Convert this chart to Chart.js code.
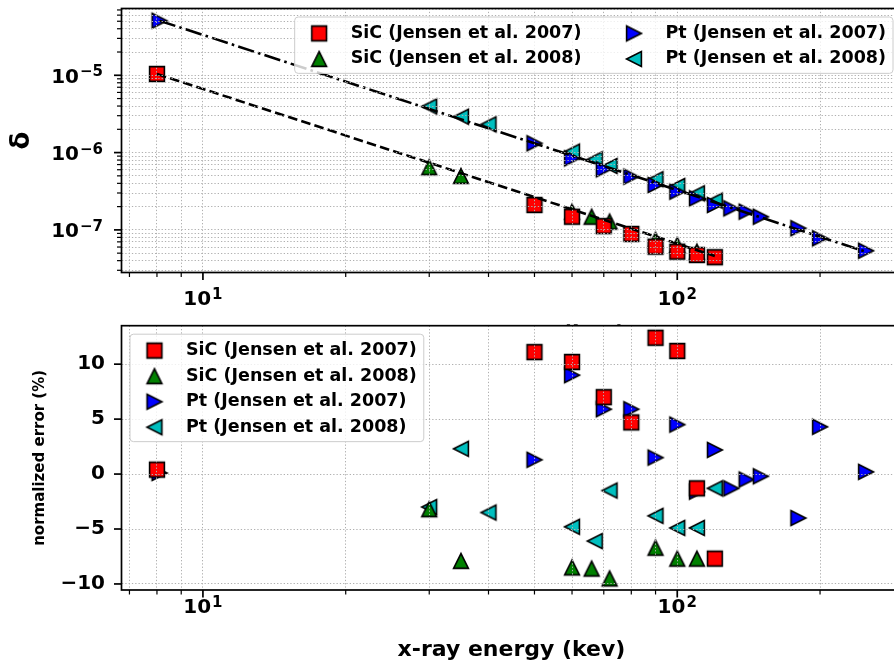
<!DOCTYPE html>
<html>
<head>
<meta charset="utf-8">
<title>delta vs x-ray energy</title>
<script src="https://cdn.jsdelivr.net/npm/chart.js@4.4.1/dist/chart.umd.min.js"></script>
<style>
  html, body { margin: 0; padding: 0; width: 894px; height: 667px; overflow: hidden; background: #fff; }
  canvas { position: absolute; left: 0; }
  #deltaChart { top: 0; }
  #errorChart { top: 318px; }
</style>
</head>
<body>
<canvas id="deltaChart" width="920" height="347"></canvas>
<canvas id="errorChart" width="920" height="349"></canvas>
<script>
"use strict"

// Data

const seriesLabels = ['SiC (Jensen et al. 2007)', 'SiC (Jensen et al. 2008)', 'Pt (Jensen et al. 2007)', 'Pt (Jensen et al. 2008)'];

const sic07Energy = [8, 50, 60, 70, 80, 90, 100, 110, 120];
const sic07Delta = [1.04e-5, 2.10e-7, 1.48e-7, 1.12e-7, 8.86e-8, 6.07e-8, 5.23e-8, 4.74e-8, 4.43e-8];
const sic07Error = [0.4, 11.1, 10.2, 7.0, 4.7, 12.4, 11.2, -1.3, -7.7];

const sic08Energy = [30, 35, 60, 66, 72, 90, 100, 110];
const sic08Delta = [6.46e-7, 4.98e-7, 1.72e-7, 1.48e-7, 1.28e-7, 7.40e-8, 6.38e-8, 5.23e-8];
const sic08Error = [-3.2, -7.9, -8.5, -8.6, -9.5, -6.7, -7.7, -7.7];

const pt07Energy = [8.1, 50, 60, 70, 80, 90, 100, 110, 120, 130, 140, 150, 180, 200, 250];
const pt07Delta = [5.08e-5, 1.32e-6, 8.43e-7, 6.08e-7, 4.88e-7, 3.81e-7, 3.12e-7, 2.56e-7, 2.10e-7, 1.90e-7, 1.72e-7, 1.48e-7, 1.05e-7, 7.79e-8, 5.38e-8];
const pt07Error = [0.1, 1.3, 9.0, 5.9, 5.9, 1.5, 4.5, -1.6, 2.2, -1.3, -0.5, -0.2, -4.0, 4.3, 0.2];

const pt08Energy = [30, 35, 40, 60, 67, 72, 90, 100, 110, 120];
const pt08Delta = [3.95e-6, 2.91e-6, 2.32e-6, 1.03e-6, 8.18e-7, 6.71e-7, 4.52e-7, 3.70e-7, 2.97e-7, 2.39e-7];
const pt08Error = [-3.0, 2.3, -3.5, -4.8, -6.1, -1.5, -3.8, -4.9, -4.9, -1.3];

// fitted curves (end points)
const sicFitEnergy = [8, 120];
const sicFitDelta = [1.04e-5, 4.6e-8];
const ptFitEnergy = [8.1, 250];
const ptFitDelta = [5.08e-5, 5.2e-8];

// axes
const energyRange = [6.735, 297];
const deltaRange = [2.81e-8, 7.31e-5];
const errorRange = [-10.55, 13.5];
const errorTicks = [-10, -5, 0, 5, 10];


Chart.defaults.font.family = '"DejaVu Sans", sans-serif';
Chart.defaults.font.weight = 'bold';
Chart.defaults.color = '#000';

const FONT = '"DejaVu Sans"';

// matplotlib-like markers as little canvases
function makeMarker(shape, fill) {
    const c = document.createElement('canvas');
    c.width = 22; c.height = 22;
    const g = c.getContext('2d');
    const m = 11, h = 7.4;
    g.beginPath();
    if (shape === 'square') g.rect(m - h, m - h, 2 * h, 2 * h);
    if (shape === 'up') { g.moveTo(m, m - h); g.lineTo(m + h, m + h); g.lineTo(m - h, m + h); }
    if (shape === 'right') { g.moveTo(m + h, m); g.lineTo(m - h, m + h); g.lineTo(m - h, m - h); }
    if (shape === 'left') { g.moveTo(m - h, m); g.lineTo(m + h, m - h); g.lineTo(m + h, m + h); }
    g.closePath();
    g.fillStyle = fill;
    g.fill();
    g.lineWidth = 1.6;
    g.strokeStyle = '#000';
    g.stroke();
    return c;
}

const markerImgs = [
    makeMarker('square', '#ff0000'),
    makeMarker('up', '#008000'),
    makeMarker('right', '#0000ff'),
    makeMarker('left', '#00bfbf')
];

function xy(xs, ys) {
    return xs.map((x, i) => ({ x: x, y: ys[i] }));
}

function pointSet(i, xs, ys) {
    return { label: seriesLabels[i], data: xy(xs, ys), pointStyle: markerImgs[i], pointRadius: 8, showLine: false, order: 1 };
}

function fitSet(xs, ys, dash) {
    return { data: xy(xs, ys), showLine: true, borderColor: '#000', borderWidth: 2.6, borderDash: dash, pointRadius: 0, order: 0 };
}

// every k*10^n inside the range (major + minor)
function logTicks(min, max) {
    const out = [];
    for (let e = Math.floor(Math.log10(min)); e <= Math.ceil(Math.log10(max)); e++) {
        for (let k = 1; k < 10; k++) {
            const v = k * Math.pow(10, e);
            if (v >= min && v <= max) out.push({ value: v });
        }
    }
    return out;
}

function isDecade(v) {
    const l = Math.log10(v);
    return Math.abs(l - Math.round(l)) < 1e-6;
}

// "10" with a raised exponent, y = middle of the digits
function drawPow(ctx, v, x, y, align) {
    const exp = Math.round(Math.log10(v));
    const sup = (exp < 0 ? '\u2212' : '') + Math.abs(exp);
    ctx.font = 'bold 20px ' + FONT;
    const wb = ctx.measureText('10').width;
    ctx.font = 'bold 15px ' + FONT;
    const ws = ctx.measureText(sup).width;
    const total = wb + 1 + ws;
    const x0 = align === 'center' ? x - total / 2 : x - total;
    ctx.fillStyle = '#000';
    ctx.textAlign = 'left';
    ctx.textBaseline = 'alphabetic';
    ctx.font = 'bold 20px ' + FONT;
    ctx.fillText('10', x0, y + 7.3);
    ctx.font = 'bold 15px ' + FONT;
    ctx.fillText(sup, x0 + wb + 1, y + 1);
}

function drawLegend(chart, loc, cols) {
    const ctx = chart.ctx, a = chart.chartArea;
    const items = chart.data.datasets.filter(d => d.label);
    const f = 17.5, pad = 0.4 * f, hl = 2 * f, htp = 0.8 * f, ls = 0.5 * f, cs = 2 * f, rowH = 0.96 * f;
    ctx.font = 'bold ' + f + 'px ' + FONT;
    const rows = Math.ceil(items.length / cols);
    const colW = [];
    for (let c = 0; c < cols; c++) {
        let tw = 0;
        for (let r = 0; r < rows; r++) {
            const it = items[c * rows + r];
            if (it) tw = Math.max(tw, ctx.measureText(it.label).width);
        }
        colW.push(hl + htp + tw);
    }
    const w = 2 * pad + colW.reduce((s, v) => s + v, 0) + cs * (cols - 1);
    const h = 2 * pad + rows * rowH + (rows - 1) * ls;
    const bx = loc === 'upper right' ? a.right - 8.5 - w : a.left + 8.5;
    const by = a.top + 8.5;

    ctx.beginPath();
    if (ctx.roundRect) ctx.roundRect(bx, by, w, h, 3.5);
    else ctx.rect(bx, by, w, h);
    ctx.fillStyle = 'rgba(255,255,255,0.8)';
    ctx.fill();
    ctx.strokeStyle = '#cccccc';
    ctx.lineWidth = 1;
    ctx.stroke();

    let x = bx + pad;
    ctx.textAlign = 'left';
    ctx.textBaseline = 'middle';
    ctx.fillStyle = '#000';
    for (let c = 0; c < cols; c++) {
        for (let r = 0; r < rows; r++) {
            const it = items[c * rows + r];
            if (!it) continue;
            const cy = by + pad + r * (rowH + ls) + rowH / 2 + 1;
            const img = it.pointStyle;
            ctx.drawImage(img, x + hl / 2 - img.width / 2, cy - img.height / 2);
            ctx.fillText(it.label, x + hl + htp, cy);
        }
        x += colW[c] + cs;
    }
}

// frame, tick marks, power labels and legend, matplotlib style
const mplDecor = {
    id: 'mplDecor',
    beforeDraw(chart, args, opts) {
        if (opts.whiteBg) {
            const ctx = chart.ctx;
            const top = chart.chartArea.top - 1;
            ctx.save();
            ctx.fillStyle = '#fff';
            ctx.fillRect(0, top, chart.width, chart.height - top);
            ctx.restore();
        }
    },
    afterDraw(chart, args, opts) {
        const ctx = chart.ctx, a = chart.chartArea;
        const sx = chart.scales.x, sy = chart.scales.y;
        ctx.save();
        ctx.strokeStyle = '#000';
        ctx.lineWidth = 1.7;
        ctx.strokeRect(a.left, a.top, a.right - a.left, a.bottom - a.top);

        sx.ticks.forEach(t => {
            const px = sx.getPixelForValue(t.value);
            const major = isDecade(t.value);
            ctx.lineWidth = major ? 1.7 : 1.2;
            ctx.beginPath();
            ctx.moveTo(px, a.bottom);
            ctx.lineTo(px, a.bottom + (major ? 7.5 : 4.5));
            ctx.stroke();
            if (major) drawPow(ctx, t.value, px, a.bottom + opts.xLabelDy, 'center');
        });

        sy.ticks.forEach(t => {
            const py = sy.getPixelForValue(t.value);
            const major = opts.logY ? isDecade(t.value) : true;
            ctx.strokeStyle = '#000';
            ctx.lineWidth = major ? 1.7 : 1.2;
            ctx.beginPath();
            ctx.moveTo(a.left, py);
            ctx.lineTo(a.left - (major ? 7.5 : 4.5), py);
            ctx.stroke();
            if (opts.logY && major) drawPow(ctx, t.value, opts.yLabelRight, py, 'right');
        });

        drawLegend(chart, opts.legendLoc, opts.legendCols);
        ctx.restore();
    }
};

const gridStyle = { color: '#b0b0b0', lineWidth: 1, drawTicks: false, z: 1 };
const gridBorder = { display: false, dash: [1.3, 2] };

// fixed axis sizes so the plot areas line up with the figure
function fixWidth(s) {
    s.width = 121.5;
    s.paddingTop = 0;
    s.paddingBottom = 0;
}

function energyAxis(height, title) {
    return {
        type: 'logarithmic',
        position: 'bottom',
        min: energyRange[0],
        max: energyRange[1],
        afterBuildTicks: s => { s.ticks = logTicks(energyRange[0], energyRange[1]); },
        afterFit: s => { s.height = height; s.paddingLeft = 0; s.paddingRight = 0; },
        ticks: { display: false },
        grid: gridStyle,
        border: gridBorder,
        title: title
    };
}


// Top: delta vs energy

new Chart(document.getElementById('deltaChart'), {
    type: 'scatter',
    data: {
        datasets: [
            fitSet(ptFitEnergy, ptFitDelta, [16.6, 4.2, 2.6, 4.2]),
            fitSet(sicFitEnergy, sicFitDelta, [9.6, 4.2]),
            pointSet(0, sic07Energy, sic07Delta),
            pointSet(1, sic08Energy, sic08Delta),
            pointSet(2, pt07Energy, pt07Delta),
            pointSet(3, pt08Energy, pt08Delta)
        ]
    },
    options: {
        responsive: false,
        devicePixelRatio: 1,
        animation: false,
        events: [],
        layout: { padding: { top: 8.5, right: 18.5, left: 0, bottom: 0 }, autoPadding: false },
        plugins: {
            legend: { display: false },
            tooltip: { enabled: false },
            mplDecor: { xLabelDy: 25.5, logY: true, yLabelRight: 103, legendLoc: 'upper right', legendCols: 2 }
        },
        scales: {
            x: energyAxis(74.5, { display: true, text: 'x-ray energy (kev)', font: { size: 22, weight: 'bold' }, padding: 0, color: '#000' }),
            y: {
                type: 'logarithmic',
                min: deltaRange[0],
                max: deltaRange[1],
                afterBuildTicks: s => { s.ticks = logTicks(deltaRange[0], deltaRange[1]); },
                afterFit: fixWidth,
                ticks: { display: false },
                grid: gridStyle,
                border: gridBorder,
                title: { display: true, text: 'δ', font: { size: 26, weight: 'bold' }, padding: { top: 7 }, color: '#000' }
            }
        }
    },
    plugins: [mplDecor]
});


// Bottom: normalized error vs energy

new Chart(document.getElementById('errorChart'), {
    type: 'scatter',
    data: {
        datasets: [
            pointSet(0, sic07Energy, sic07Error),
            pointSet(1, sic08Energy, sic08Error),
            pointSet(2, pt07Energy, pt07Error),
            pointSet(3, pt08Energy, pt08Error)
        ]
    },
    options: {
        responsive: false,
        devicePixelRatio: 1,
        animation: false,
        events: [],
        layout: { padding: { top: 7.7, right: 18.5, left: 0, bottom: 0 }, autoPadding: false },
        plugins: {
            legend: { display: false },
            tooltip: { enabled: false },
            mplDecor: { xLabelDy: 15.8, logY: false, legendLoc: 'upper left', legendCols: 1, whiteBg: true }
        },
        scales: {
            x: energyAxis(77, { display: true, text: 'x-ray energy (kev)', font: { size: 22, weight: 'bold' }, padding: { bottom: 3.8 }, color: '#000' }),
            y: {
                type: 'linear',
                min: errorRange[0],
                max: errorRange[1],
                afterBuildTicks: s => { s.ticks = errorTicks.map(v => ({ value: v })); },
                afterFit: fixWidth,
                ticks: {
                    font: { size: 20, weight: 'bold' },
                    color: '#000',
                    padding: 16.5,
                    autoSkip: false,
                    callback: v => String(v).replace('-', '\u2212')
                },
                grid: gridStyle,
                border: gridBorder,
                title: { display: true, text: 'normalized error (%)', font: { size: 15, weight: 'bold' }, padding: { top: 31 }, color: '#000' }
            }
        }
    },
    plugins: [mplDecor]
});
</script>
</body>
</html>
